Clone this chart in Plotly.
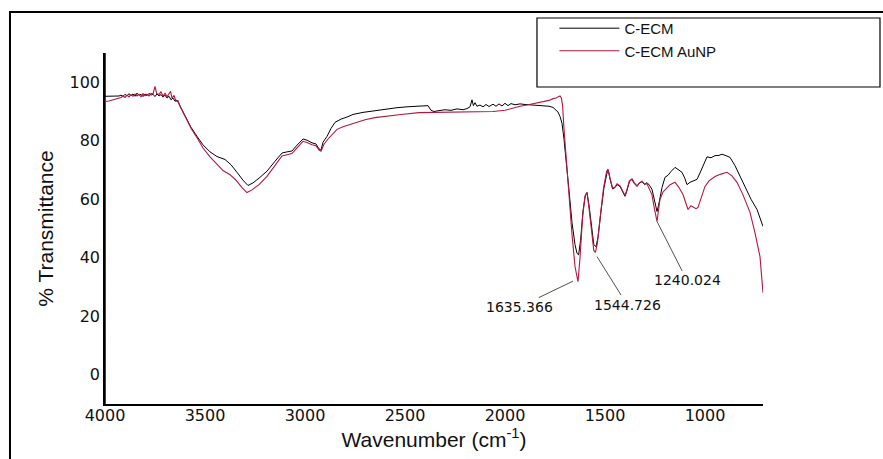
import plotly.graph_objects as go

# ---------------- data ----------------
wn_cecm = [4000, 3930, 3920, 3910, 3900, 3890, 3880, 3870, 3860, 3850, 3840, 3830, 3820, 3810, 3800,
           3790, 3780, 3770, 3760, 3750, 3740, 3730, 3720, 3710, 3700, 3690, 3680, 3670, 3660, 3650,
           3640, 3630, 3620, 3610, 3590, 3570, 3540, 3510, 3475, 3440, 3400, 3370, 3340, 3310, 3285,
           3260, 3230, 3190, 3150, 3115, 3090, 3065, 3040, 3010, 2990, 2965, 2945, 2930, 2920, 2910,
           2890, 2870, 2850, 2820, 2790, 2760, 2710, 2650, 2590, 2540, 2490, 2440, 2400, 2385, 2370,
           2355, 2330, 2300, 2270, 2240, 2210, 2190, 2175, 2165, 2158, 2150, 2140, 2125, 2110, 2095,
           2080, 2060, 2045, 2030, 2015, 2000, 1985, 1970, 1950, 1925, 1900, 1870, 1840, 1810, 1780,
           1760, 1745, 1735, 1725, 1715, 1705, 1695, 1680, 1665, 1650, 1640, 1632, 1622, 1610, 1598,
           1590, 1580, 1568, 1556, 1545, 1535, 1520, 1505, 1490, 1483, 1475, 1462, 1450, 1440, 1425,
           1412, 1400, 1390, 1378, 1365, 1355, 1340, 1328, 1315, 1302, 1290, 1278, 1265, 1255, 1245,
           1240, 1232, 1225, 1215, 1200, 1185, 1170, 1150, 1135, 1115, 1100, 1090, 1075, 1060, 1040,
           1025, 1010, 990, 970, 950, 930, 915, 895, 875, 850, 830, 810, 790, 770, 740, 710]
t_cecm = [95.2, 95.3, 95.6, 95.2, 95.9, 95.3, 96.1, 95.4, 96.0, 95.2, 96.3, 95.5, 95.9, 95.1, 96.0,
          95.4, 96.2, 95.6, 95.9, 95.1, 96.0, 95.3, 95.8, 94.9, 95.6, 94.6, 95.2, 94.0, 94.6, 93.5,
          93.9, 92.6, 91.4, 89.9, 87.0, 84.6, 81.5, 78.6, 76.2, 74.6, 73.6, 71.8, 69.2, 66.5, 64.7,
          65.6, 67.2, 69.6, 73.0, 75.8, 76.2, 76.5, 78.5, 80.6, 80.2, 79.3, 78.9, 77.2, 76.8, 79.5,
          81.5, 84.2, 86.3, 87.4, 88.1, 89.0, 89.7, 90.3, 90.7, 91.3, 91.6, 91.8, 92.1, 92.0, 90.4,
          90.0, 90.3, 90.6, 90.4, 90.9, 90.6, 91.0, 91.6, 94.0, 92.0, 93.0, 91.8, 92.2, 91.6, 92.4,
          91.7, 92.5, 91.8, 92.6, 91.9, 92.8, 92.0, 92.7, 92.3, 92.6, 92.4, 92.3, 92.2, 92.0, 91.8,
          91.4, 90.6, 89.8, 88.3, 86.0, 80.5, 74.0, 63.0, 52.0, 44.5, 41.5, 41.0, 46.0, 56.0, 61.5,
          62.3, 58.0, 50.0, 44.5, 43.8, 47.0, 56.0, 64.0, 69.0, 69.8, 67.0, 63.5, 64.0, 65.0, 64.4,
          62.5, 61.0, 63.0, 66.0, 66.8, 65.5, 64.4, 65.5, 66.0, 65.0, 65.7, 64.8, 63.4, 60.0, 57.0,
          55.8, 58.0, 60.5, 64.0, 67.5, 68.2, 69.5, 70.9, 70.2, 69.2, 67.0, 65.0, 65.8, 66.2, 66.8,
          69.0, 71.5, 74.5, 74.2, 74.9, 75.0, 75.4, 74.9, 74.3, 71.5, 68.5, 65.8, 62.8, 60.0, 56.5, 50.7]

wn_aunp = [4000, 3999, 3980, 3960, 3940, 3920, 3910, 3900, 3890, 3880, 3870, 3860, 3850, 3840, 3830,
           3820, 3810, 3800, 3790, 3780, 3770, 3760, 3750, 3742, 3730, 3720, 3710, 3700, 3690, 3680,
           3672, 3665, 3655, 3645, 3635, 3625, 3610, 3590, 3570, 3540, 3510, 3475, 3440, 3410, 3375,
           3345, 3315, 3290, 3265, 3230, 3190, 3150, 3115, 3090, 3065, 3040, 3010, 2990, 2965, 2945,
           2930, 2920, 2905, 2885, 2860, 2840, 2810, 2780, 2740, 2700, 2650, 2600, 2520, 2430, 2350,
           2290, 2200, 2130, 2060, 2000, 1960, 1925, 1890, 1860, 1830, 1800, 1780, 1760, 1745, 1735,
           1725, 1718, 1712, 1705, 1695, 1680, 1665, 1650, 1640, 1635, 1625, 1612, 1600, 1590, 1580,
           1568, 1556, 1548, 1538, 1522, 1507, 1492, 1485, 1476, 1462, 1450, 1440, 1425, 1412, 1400,
           1390, 1378, 1365, 1355, 1340, 1328, 1315, 1302, 1290, 1278, 1265, 1255, 1245, 1240, 1232,
           1225, 1210, 1195, 1175, 1150, 1130, 1110, 1095, 1085, 1070, 1060, 1045, 1035, 1020, 1000,
           980, 950, 920, 890, 865, 840, 810, 775, 750, 725, 710]
t_aunp = [12.0, 93.4, 93.6, 94.0, 94.3, 94.8, 95.3, 94.8, 95.6, 95.0, 95.8, 95.2, 96.0, 95.3, 95.9,
          95.0, 96.1, 95.4, 95.9, 95.3, 96.2, 96.0, 98.6, 96.2, 95.8, 96.8, 95.2, 96.3, 95.0, 96.0,
          96.9, 94.6, 95.4, 93.5, 93.7, 91.8, 89.8, 86.8, 84.3, 81.0, 77.5, 74.5, 71.8, 69.8, 68.4,
          66.5, 64.0, 62.3, 63.2, 65.0, 67.8, 71.5, 74.8, 75.2, 75.6, 77.6, 79.8, 79.4, 78.6, 78.3,
          76.8, 76.4, 78.8, 80.6, 82.5, 83.9, 84.8, 85.4, 86.4, 87.2, 87.9, 88.4, 89.0, 89.6, 89.7,
          89.8, 89.8, 89.9, 90.0, 90.4, 91.2, 91.8, 92.2, 92.6, 93.0, 93.4, 93.8, 94.4, 94.6, 95.0,
          95.3, 94.6, 92.0, 84.0, 74.5, 62.0, 48.0, 37.0, 32.5, 31.8, 40.0, 54.0, 61.0, 62.3, 57.0,
          48.5, 42.5, 41.8, 45.0, 55.0, 64.0, 69.5, 70.3, 67.5, 63.8, 64.2, 65.3, 64.6, 62.8, 61.3,
          63.4, 66.3, 67.0, 65.8, 64.6, 65.6, 66.2, 65.2, 65.3, 63.5, 61.5, 57.5, 53.5, 52.4, 56.5,
          60.0, 62.5, 63.5, 65.0, 65.8, 64.0, 61.6, 58.0, 56.5, 57.8, 57.5, 56.8, 57.2, 60.5, 64.4,
          66.3, 67.8, 68.6, 69.2, 68.0, 65.8, 61.5, 55.5, 48.5, 40.4, 28.0]

peak_labels = ["1635.366", "1544.726", "1240.024"]
peak_x = [1660, 1540, 1240]
peak_y = [32.0, 40.4, 52.4]
peak_ax = [-54, 30, 30]
peak_ay = [26, 48, 59]

x_ticks = [4000, 3500, 3000, 2500, 2000, 1500, 1000]
y_ticks = [0, 20, 40, 60, 80, 100]

# ---------------- figure ----------------
fig = go.Figure()
fig.add_trace(go.Scatter(x=wn_cecm, y=t_cecm, mode="lines", name="C-ECM",
                         line=dict(color="#000000", width=1)))
fig.add_trace(go.Scatter(x=wn_aunp, y=t_aunp, mode="lines", name="C-ECM AuNP",
                         line=dict(color="#b3173f", width=1.1)))

for lab, px_, py_, ax_, ay_ in zip(peak_labels, peak_x, peak_y, peak_ax, peak_ay):
    fig.add_annotation(x=px_, y=py_, text=lab, showarrow=True, arrowhead=0, arrowwidth=0.8,
                       arrowcolor="#222222", ax=ax_, ay=ay_,
                       font=dict(family="DejaVu Sans", size=14, color="#111111"))

# y axis line (below traces), outer frame and legend box
fig.add_shape(type="line", xref="paper", yref="paper", x0=0, x1=0, y0=0, y1=1,
              line=dict(color="black", width=1.5), layer="below")
fig.add_shape(type="rect", xref="paper", yref="paper", x0=-0.1444, x1=1.25, y0=-0.25, y1=1.1168,
              line=dict(color="black", width=2), layer="above")
fig.add_shape(type="rect", xref="paper", yref="paper", x0=0.6565, x1=1.1778, y0=0.9031, y1=1.0997,
              line=dict(color="black", width=1.2), layer="above")

fig.update_layout(
    width=883, height=459,
    margin=dict(l=105, r=120, t=53, b=55),
    paper_bgcolor="white", plot_bgcolor="white",
    showlegend=True,
    legend=dict(x=0.683, y=1.117, xanchor="left", yanchor="top", bgcolor="rgba(0,0,0,0)",
                font=dict(family="Liberation Sans, Arial", size=15, color="#111111"),
                itemwidth=60, tracegroupgap=0),
    xaxis=dict(range=[4000, 710], tickvals=x_ticks, showgrid=False, zeroline=False,
               showline=True, linecolor="black", linewidth=1.5, ticks="", automargin=False,
               ticklabelstandoff=-4,
               tickfont=dict(family="DejaVu Sans", size=16, color="#111111"),
               title=dict(text="Wavenumber (cm<sup>-1</sup>)", standoff=8,
                          font=dict(family="Liberation Sans, Arial", size=21, color="#111111"))),
    yaxis=dict(range=[-10, 110], tickvals=y_ticks, showgrid=False, zeroline=False,
               showline=True, linecolor="black", linewidth=1.5, ticks="", automargin=False,
               tickfont=dict(family="DejaVu Sans", size=16, color="#111111"),
               title=dict(text="% Transmittance", standoff=10,
                          font=dict(family="Liberation Sans, Arial", size=21, color="#111111"))),
)

fig.write_html("out.html")
